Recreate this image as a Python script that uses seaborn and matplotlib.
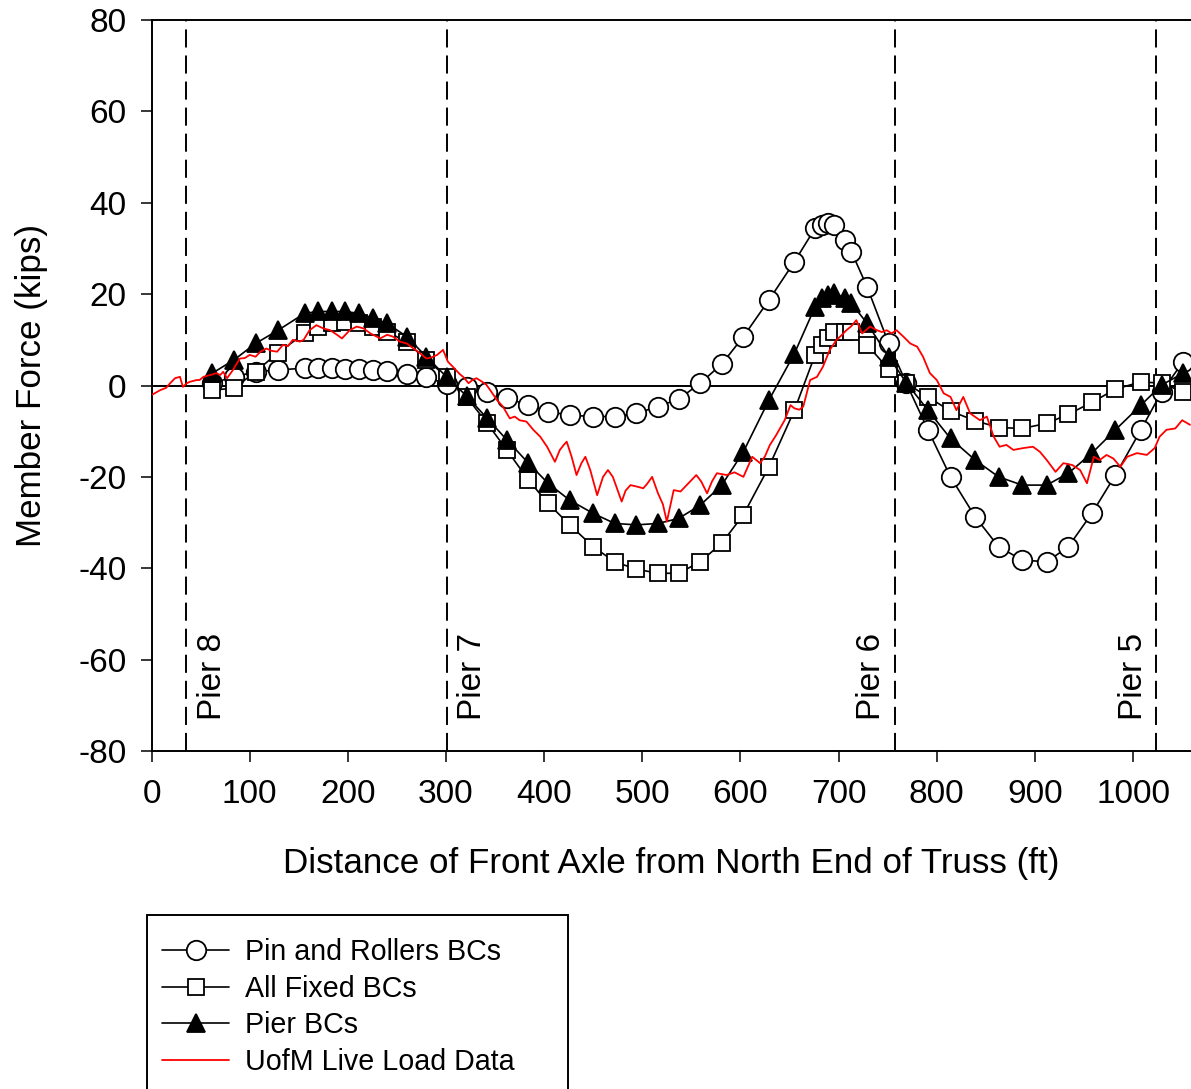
import numpy as np
import pandas as pd
import matplotlib
matplotlib.use("Agg")
import matplotlib.pyplot as plt
from matplotlib.patches import Rectangle
import seaborn as sns

# ---------------- data ----------------
truck_pos = [62, 84, 106, 129, 156, 170, 184, 197, 211, 226, 240, 260, 280, 301,
             321, 342, 362, 384, 404, 426, 450, 472, 494, 516, 537, 559, 581, 603,
             629, 655, 676, 683, 689, 695, 707, 713, 729, 751, 769, 791, 814, 839,
             863, 887, 912, 934, 958, 982, 1008, 1029, 1051]

pin_rollers = [0.5, 1.9, 3.0, 3.4, 3.8, 3.8, 3.8, 3.7, 3.7, 3.4, 3.2, 2.5, 1.8, 0.3,
               -0.4, -1.4, -2.8, -4.3, -5.7, -6.5, -6.8, -6.8, -6.1, -4.6, -3.0, 0.5, 4.7, 10.7,
               18.7, 27.1, 34.4, 35.1, 35.5, 35.1, 31.8, 29.3, 21.6, 9.2, 0.5, -9.7, -20.0, -28.7,
               -35.3, -38.2, -38.6, -35.3, -28.0, -19.6, -9.7, -1.4, 5.2]

all_fixed = [-1.0, -0.6, 3.0, 7.2, 11.4, 12.8, 13.7, 13.9, 13.6, 12.8, 11.8, 9.5, 5.6, 1.9,
             -2.5, -8.3, -14.1, -20.7, -25.8, -30.5, -35.3, -38.6, -40.2, -41.1, -41.1, -38.6, -34.5, -28.3,
             -17.8, -5.4, 6.7, 8.9, 10.5, 11.8, 11.8, 11.8, 8.9, 3.6, 0.5, -2.5, -5.6, -7.7,
             -9.2, -9.4, -8.3, -6.3, -3.7, -0.8, 0.8, 0.5, -1.4]

pier_bcs = [2.7, 5.6, 9.2, 12.1, 15.8, 16.2, 16.2, 16.2, 15.8, 14.7, 13.6, 10.7, 6.3, 1.8,
            -2.3, -7.2, -11.9, -17.0, -21.4, -25.1, -28.0, -30.2, -30.5, -30.2, -29.1, -26.2, -21.8, -14.5,
            -3.2, 7.0, 17.2, 19.1, 19.8, 20.2, 19.1, 18.0, 13.6, 6.3, 0.6, -5.4, -11.6, -16.3,
            -20.0, -21.8, -21.8, -19.2, -14.8, -9.7, -4.3, 0.1, 2.7]

live_x = [0, 9, 15, 19, 24, 29, 32, 36, 39, 46, 49, 53, 60, 66, 70, 73, 77, 83, 90, 95,
          100, 106, 111, 117, 122, 128, 134, 139, 144, 151, 155, 161, 168, 175, 182, 189, 194, 202, 209, 216,
          223, 233, 240, 246, 253, 260, 267, 274, 280, 286, 291, 297, 302, 307, 314, 318, 323, 327, 331, 337,
          341, 345, 352, 358, 365, 370, 375, 382, 389, 396, 403, 411, 416, 420, 423, 428, 433, 438, 442, 447,
          454, 460, 465, 470, 479, 483, 488, 494, 501, 505, 510, 516, 521, 525, 532, 539, 547, 555, 560, 566,
          571, 576, 586, 594, 603, 612, 620, 625, 630, 636, 640, 645, 651, 655, 660, 664, 671, 678, 684, 691,
          698, 703, 708, 713, 718, 724, 732, 739, 744, 749, 754, 759, 766, 773, 780, 786, 793, 800, 807, 814,
          820, 827, 834, 844, 851, 858, 864, 871, 878, 888, 898, 905, 912, 921, 929, 938, 946, 953, 960, 966,
          973, 980, 987, 994, 1004, 1014, 1022, 1027, 1034, 1043, 1050, 1058]
live_y = [-2.1, -1.0, -0.5, 0.5, 1.6, 1.9, -0.3, 0.5, 0.8, 1.2, 1.2, 1.9, 2.3, 2.7, 2.3, 3.0, 1.6, 3.4, 5.9, 6.0,
          6.7, 6.3, 7.4, 8.1, 7.6, 7.4, 8.9, 8.6, 10.0, 9.6, 10.0, 12.1, 13.2, 12.5, 12.1, 11.1, 10.3, 12.1, 12.9, 12.5,
          11.4, 10.3, 11.1, 10.7, 9.6, 9.2, 8.1, 7.0, 5.9, 6.2, 6.7, 7.8, 5.2, 4.1, 2.5, 1.8, 0.5, 1.2, 1.6, 0.8,
          0.2, -1.0, -3.2, -4.6, -7.2, -6.8, -7.6, -7.9, -9.7, -11.2, -13.4, -16.7, -14.1, -13.0, -12.3, -15.6, -19.6, -17.0, -15.6, -18.5,
          -24.0, -20.0, -18.5, -20.0, -25.4, -23.0, -21.8, -22.1, -22.5, -21.5, -20.0, -23.6, -26.0, -29.8, -22.9, -23.2, -21.4, -19.6, -21.0, -23.6,
          -21.0, -19.2, -19.6, -19.0, -20.0, -15.6, -17.0, -15.5, -13.0, -11.0, -9.5, -7.6, -4.3, -5.0, -5.3, -4.6, 1.2, 1.9, 4.1, 7.8,
          10.0, 11.0, 12.1, 13.0, 14.3, 11.4, 12.9, 12.1, 11.7, 12.1, 11.4, 12.1, 10.7, 9.2, 8.5, 6.3, 2.7, 1.2, -1.7, -2.5,
          -5.4, -2.5, -6.1, -7.6, -6.8, -11.2, -13.4, -13.0, -14.1, -13.7, -13.4, -14.5, -16.3, -18.9, -17.0, -17.4, -18.5, -21.4, -15.6, -16.3,
          -15.2, -16.0, -17.8, -15.6, -14.8, -15.2, -13.7, -11.2, -9.7, -9.4, -7.6, -8.6]

pier_x = [35, 301, 757, 1023]
pier_labels = ["Pier 8", "Pier 7", "Pier 6", "Pier 5"]
pier_text_x = [62.5, 327.5, 734, 1000]

x_ticks = [0, 100, 200, 300, 400, 500, 600, 700, 800, 900, 1000]
y_ticks = [-80, -60, -40, -20, 0, 20, 40, 60, 80]

# ---------------- style ----------------
sns.set_theme(style="ticks")
plt.rcParams["font.family"] = ["Liberation Sans", "DejaVu Sans"]
plt.rcParams["axes.unicode_minus"] = False
plt.rcParams["text.color"] = "black"
plt.rcParams["axes.labelcolor"] = "black"
plt.rcParams["xtick.color"] = "black"
plt.rcParams["ytick.color"] = "black"

W, H = 1191, 1089
fig = plt.figure(figsize=(W / 100, H / 100), dpi=100)
ax = fig.add_axes([151.5 / W, (H - 751) / H, 1 - 151.5 / W, (751 - 20) / H])

# reference lines
ax.axhline(0, color="black", lw=1.4, zorder=1)
for px in pier_x:
    ax.axvline(px, color="black", lw=1.4, ls=(0, (9.3, 4.1)), zorder=1)

common = dict(ax=ax, color="black", lw=1.2, estimator=None, sort=False,
              markeredgecolor="black", markeredgewidth=1.3)
sns.lineplot(x=truck_pos, y=pin_rollers, marker="o", markersize=14,
             markerfacecolor="white", label="Pin and Rollers BCs", zorder=3, **common)
sns.lineplot(x=truck_pos, y=all_fixed, marker="s", markersize=12,
             markerfacecolor="white", label="All Fixed BCs", zorder=4, **common)
sns.lineplot(x=truck_pos, y=pier_bcs, marker="^", markersize=13.5,
             markerfacecolor="black", label="Pier BCs", zorder=5, **common)
sns.lineplot(x=live_x, y=live_y, ax=ax, color="red", lw=1.3, estimator=None,
             sort=False, label="UofM Live Load Data", zorder=6)

if ax.get_legend() is not None:
    ax.get_legend().remove()

for tx, lab in zip(pier_text_x, pier_labels):
    ax.text(tx, -73.2, lab, rotation=90, ha="center", va="bottom", fontsize=24, color="black")

ax.set_xlim(0, 1059)
ax.set_ylim(-80, 80)
ax.set_xticks(x_ticks)
ax.set_yticks(y_ticks)
ax.tick_params(direction="out", length=8, width=1.1, labelsize=24, colors="black")
ax.tick_params(axis="y", pad=10)
ax.tick_params(axis="x", pad=12)
for s in ["left", "bottom", "top"]:
    ax.spines[s].set_linewidth(1.4)
    ax.spines[s].set_color("black")
ax.spines["right"].set_visible(False)

ax.set_xlabel("Distance of Front Axle from North End of Truss (ft)", fontsize=25.2)
ax.set_ylabel("Member Force (kips)", fontsize=25.2)
ax.xaxis.set_label_coords(0.5, -0.132)
ax.yaxis.set_label_coords(-0.1, 0.5)

# legend: frame drawn as rectangle, entries without frame
fig.patches.append(Rectangle((147 / W, -10 / H), (568 - 147) / W, (H - 915 + 10) / H,
                             transform=fig.transFigure, facecolor="white",
                             edgecolor="black", lw=1.4, zorder=0))
handles, labels = ax.get_legend_handles_labels()
leg = fig.legend(handles, labels, loc="upper left",
                 bbox_to_anchor=(162 / W, 1 - 938 / H),
                 fontsize=20.6, frameon=False, borderaxespad=0, borderpad=0,
                 handlelength=2.35, handletextpad=0.56, labelspacing=0.3)

fig.savefig("out.png", dpi=100)
